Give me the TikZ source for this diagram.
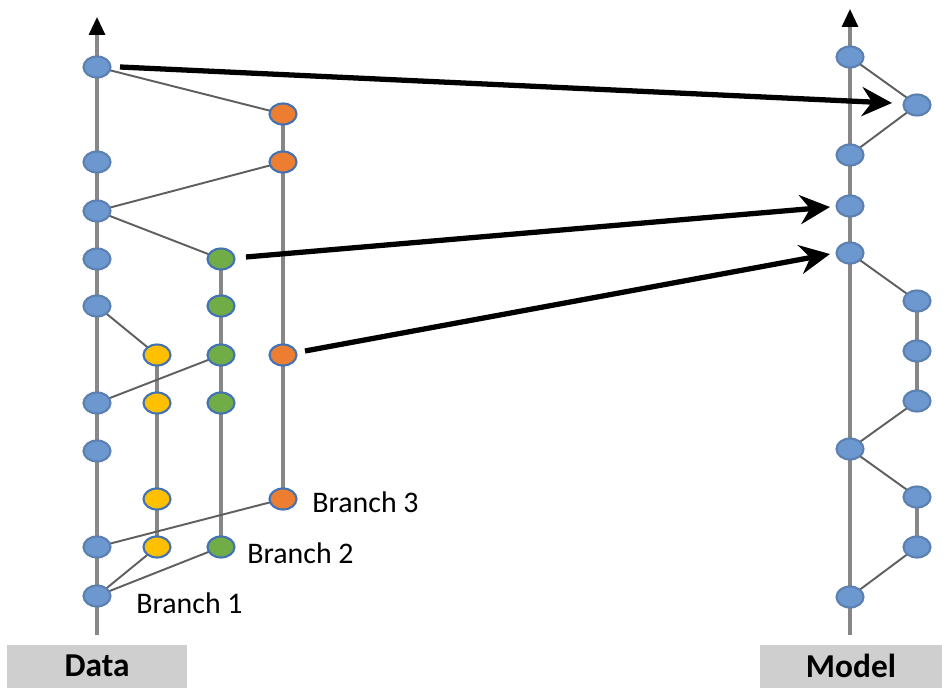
\documentclass[tikz,border=0pt]{standalone}
\usepackage{fontspec}
\setmainfont{Carlito}
\usetikzlibrary{shapes.geometric, arrows.meta, backgrounds, positioning}

\definecolor{dotblue}{RGB}{108,151,207}
\definecolor{rimblue}{RGB}{66,114,180}
\definecolor{dotorange}{RGB}{237,125,49}
\definecolor{dotgreen}{RGB}{112,173,71}
\definecolor{dotyellow}{RGB}{255,192,0}
\definecolor{linegray}{RGB}{135,135,135}
\definecolor{edgegray}{RGB}{95,95,95}
\definecolor{tagback}{RGB}{208,207,207}

\begin{document}
\begin{tikzpicture}[
  x=0.02cm, y=-0.02cm,
  dot/.style={ellipse, draw=rimblue, line width=1.2pt, minimum width=0.54cm,
              minimum height=0.42cm, inner sep=0pt},
  main/.style={dot, fill=dotblue, draw=dotblue!85!black},
  orng/.style={dot, fill=dotorange},
  grn/.style={dot, fill=dotgreen},
  ylw/.style={dot, fill=dotyellow},
  axis/.style={linegray, line width=1.8pt, -{Triangle[length=0.36cm, width=0.32cm, color=black]}},
  track/.style={linegray, line width=1.8pt},
  edge/.style={edgegray, line width=1.1pt},
  arr/.style={line width=3pt, -{Stealth[length=0.6cm, width=0.58cm, inset=0.2cm]}},
  lbl/.style={anchor=west, inner sep=0pt, font=\fontsize{17}{20}\selectfont},
  tag/.style={fill=tagback, minimum width=3.6cm, minimum height=0.86cm, inner sep=0pt,
              font=\fontsize{19}{22}\selectfont\bfseries},
]
\useasboundingbox (0,0) rectangle (942,692);

%% Data history
\node[main] (d1) at (97,67)  {};
\node[main] (d2) at (97,162) {};
\node[main] (d3) at (97,211) {};
\node[main] (d4) at (97,259) {};
\node[main] (d5) at (97,306) {};
\node[main] (d6) at (97,403) {};
\node[main] (d7) at (97,451) {};
\node[main] (d8) at (97,547) {};
\node[main] (d9) at (97,596) {};

\node[ylw] (y1) at (157,355) {};
\node[ylw] (y2) at (157,403) {};
\node[ylw] (y3) at (157,499) {};
\node[ylw] (y4) at (157,547) {};

\node[grn] (g1) at (221,259) {};
\node[grn] (g2) at (221,306) {};
\node[grn] (g3) at (221,355) {};
\node[grn] (g4) at (221,403) {};
\node[grn] (g5) at (221,547) {};

\node[orng] (o1) at (283,114) {};
\node[orng] (o2) at (283,162) {};
\node[orng] (o3) at (283,355) {};
\node[orng] (o4) at (283,499) {};

\node[lbl] (b3) at (312,502) {Branch 3};
\node[lbl] (b2) at (247,553) {Branch 2};
\node[lbl] (b1) at (136,603) {Branch 1};

%% Model history
\node[main] (m1) at (850,57)  {};
\node[main] (m2) at (850,155) {};
\node[main] (m3) at (850,206) {};
\node[main] (m4) at (850,253) {};
\node[main] (m5) at (850,449) {};
\node[main] (m6) at (850,597) {};

\node[main] (s1) at (917,105) {};
\node[main] (s2) at (917,301) {};
\node[main] (s3) at (917,351) {};
\node[main] (s4) at (917,401) {};
\node[main] (s5) at (917,497) {};
\node[main] (s6) at (917,547) {};

%% Captions
\node[tag] (data)  at (97,666)  {Data};
\node[tag, minimum width=3.64cm] (model) at (851,666) {Model};

%% Time axes and links
\coordinate (dbot) at (97,635);
\coordinate (dtop) at (97,17);
\coordinate (mbot) at (850,635);
\coordinate (mtop) at (850,9);

\begin{scope}[on background layer]
  \draw[axis] (dbot) -- (dtop);
  \draw[axis] (mbot) -- (mtop);
  \draw[track] (y1.center) -- (y4.center);
  \draw[track] (g1.center) -- (g5.center);
  \draw[track] (o1.center) -- (o4.center);
  \draw[track] (s2.center) -- (s4.center);
  \draw[track] (s5.center) -- (s6.center);

  \draw[edge] (d1.center) -- (o1.center);
  \draw[edge] (o2.center) -- (d3.center);
  \draw[edge] (d3.center) -- (g1.center);
  \draw[edge] (d5.center) -- (y1.center);
  \draw[edge] (g3.center) -- (d6.center);
  \draw[edge] (o4.center) -- (d8.center);
  \draw[edge] (d9.center) -- (y4.center);
  \draw[edge] (d9.center) -- (g5.center);

  \draw[edge] (m1.center) -- (s1.center) -- (m2.center);
  \draw[edge] (m4.center) -- (s2.center);
  \draw[edge] (s4.center) -- (m5.center) -- (s5.center);
  \draw[edge] (s6.center) -- (m6.center);
\end{scope}

%% Mapping arrows
\coordinate (a1) at (120,67);
\coordinate (t1) at (892,103);
\coordinate (a2) at (246,257);
\coordinate (t2) at (830,207);
\coordinate (a3) at (305,351);
\coordinate (t3) at (830,254);

\draw[arr] (a1) -- (t1);
\draw[arr] (a2) -- (t2);
\draw[arr] (a3) -- (t3);

\end{tikzpicture}
\end{document}
